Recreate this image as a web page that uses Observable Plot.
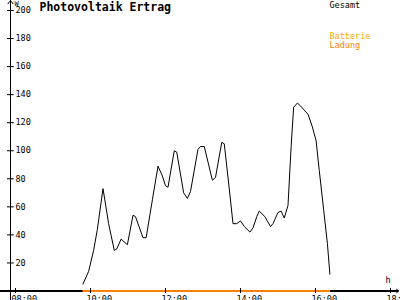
<!DOCTYPE html>
<html><head><meta charset="utf-8">
<script src="https://cdn.jsdelivr.net/npm/d3@7"></script>
<script src="https://cdn.jsdelivr.net/npm/@observablehq/plot@0.6"></script>
<style>body{margin:0;background:#fff}svg{display:block}</style>
</head><body><div id="chart"></div>
<script>
const title = "Photovoltaik Ertrag";
const unitY = "W";
const unitX = "h";
const legendTotal = "Gesamt";
const legendBattery = "Batterie";
const legendCharge = "Ladung";
const times = ["09:48","09:57","10:05","10:11","10:20","10:29","10:38","10:42","10:49","10:59","11:08","11:12","11:24","11:29","11:39","11:48","11:55","12:00","12:04","12:14","12:18","12:29","12:35","12:40","12:52","12:56","13:02","13:15","13:20","13:30","13:34","13:41","13:48","13:54","14:00","14:06","14:15","14:20","14:26","14:30","14:39","14:48","14:52","15:00","15:05","15:10","15:16","15:21","15:25","15:31","15:36","15:42","15:48","15:55","16:01","16:06","16:13","16:19","16:23"];
const watts = [5,14,29,44,73,48,29,30,37,33,54,53,38,38,65,89,82,75,74,100,99,70,66,71,101,103,103,79,81,106,105,77,48,48,50,46,42,45,53,57,53,46,48,56,57,52,61,103,131,134,132,129,126,117,107,86,58,34,12];
const chargeTimes = ["09:48","16:24"];
const xTickLabels = ["08:00","10:00","12:00","14:00","16:00","18:00"];
const yTickValues = [20,40,60,80,100,120,140,160,180,200];

const toH = s => { const [h,m] = s.split(":").map(Number); return h + m/60; };
const data = times.map((t,i) => ({h: toH(t), w: watts[i]}));
const xTicks = xTickLabels.map(toH);
const yAxisAt = toH("07:52");
const xAxisFrom = toH("07:36"), xAxisTo = toH("18:13");
const yAxisFrom = -7, yAxisTo = 207;
const mono = "DejaVu Sans Mono";

const chart = Plot.plot({
  width: 400, height: 300,
  marginLeft: 15, marginRight: 10, marginTop: 10, marginBottom: 9.5,
  x: {domain: [8, 18], axis: null},
  y: {domain: [0, 200], axis: null},
  style: {background: "#fff", fontFamily: mono},
  marks: [
    Plot.arrow([0], {x1: yAxisAt, x2: yAxisAt, y1: yAxisFrom, y2: yAxisTo, stroke: "#000", strokeWidth: 1, headLength: 6, headAngle: 80}),
    Plot.ruleY([0], {x1: xAxisFrom, x2: xAxisTo, stroke: "#000", strokeWidth: 2}),
    Plot.arrow([0], {x1: toH("18:00"), x2: xAxisTo, y1: 0, y2: 0, stroke: "#000", strokeWidth: 1, headLength: 6, headAngle: 80}),
    Plot.ruleY([0], {x1: toH(chargeTimes[0]), x2: toH(chargeTimes[1]), stroke: "#ff8000", strokeWidth: 2}),
    Plot.ruleY(yTickValues, {x1: yAxisAt - 0.08, x2: yAxisAt + 0.1, stroke: "#000"}),
    Plot.text(yTickValues, {y: d => d, x: yAxisAt, text: d => String(d), textAnchor: "start", dx: 5, fontSize: 8.5, fill: "#000"}),
    Plot.ruleX(xTicks, {y1: -1.8, y2: 1.8, stroke: "#000"}),
    Plot.text(xTicks, {x: d => d, y: 0, text: (d,i) => xTickLabels[i], textAnchor: "start", lineAnchor: "top", dx: -4, dy: 5, fontSize: 8.5, fill: "#000"}),
    Plot.line(data, {x: "h", y: "w", stroke: "#000", strokeWidth: 1}),
    Plot.text([title], {frameAnchor: "top-left", textAnchor: "start", lineAnchor: "top", dx: 24, dy: -7.3, fontSize: 11.5, fontWeight: "bold", fill: "#000"}),
    Plot.text([unitY], {frameAnchor: "top-left", textAnchor: "start", lineAnchor: "top", dx: -1, dy: -9, fontSize: 7, fill: "#000"}),
    Plot.text([unitX], {frameAnchor: "top-left", textAnchor: "start", lineAnchor: "top", dx: 370, dy: 266, fontSize: 8.5, fill: "#000"}),
    Plot.text([legendTotal], {frameAnchor: "top-left", textAnchor: "start", lineAnchor: "top", dx: 314, dy: -8.3, fontSize: 8.5, fill: "#000"}),
    Plot.text([legendBattery], {frameAnchor: "top-left", textAnchor: "start", lineAnchor: "top", dx: 314, dy: 22.5, fontSize: 8.5, fill: "#ffa500"}),
    Plot.text([legendCharge], {frameAnchor: "top-left", textAnchor: "start", lineAnchor: "top", dx: 314, dy: 31, fontSize: 8.5, fill: "#ff8000"})
  ]
});
document.getElementById("chart").appendChild(chart);
</script></body></html>
